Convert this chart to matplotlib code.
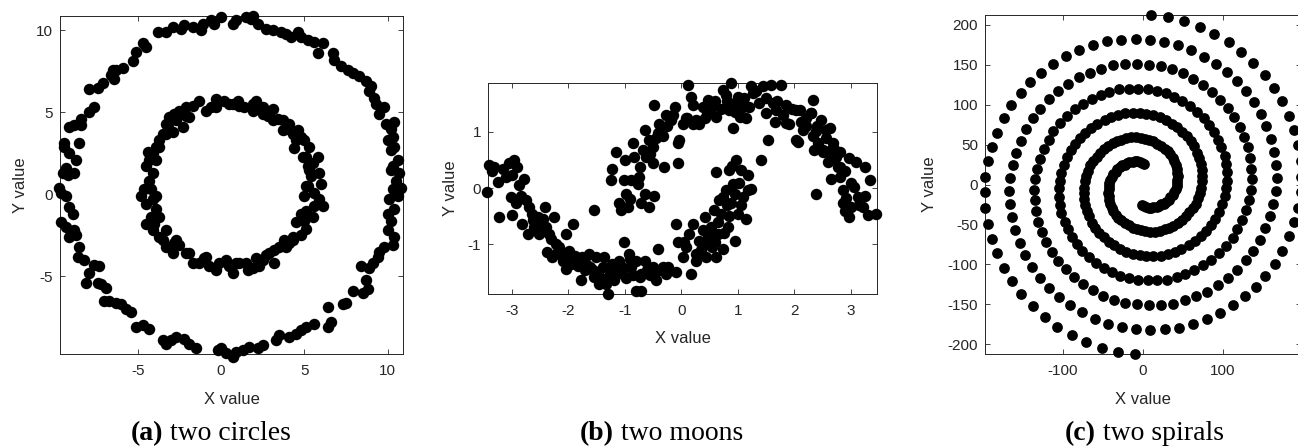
import numpy as np
import matplotlib
matplotlib.use("Agg")
import matplotlib.pyplot as plt

# ---- data ----
circle_outer = [
    (-3.8, 9.9), (-3.3, 9.9), (-2.9, 10.2), (-2.4, 10.1), (-2.2, 10.3), (-1.7, 10.2), (-1.2, 10.0),
    (-1.1, 10.4), (-0.6, 10.6), (0.0, 10.8), (-0.4, 10.4), (0.7, 10.4), (0.9, 10.6), (1.5, 10.8),
    (1.9, 10.9), (1.8, 10.7), (2.2, 10.4), (2.7, 10.1), (3.1, 10.0), (3.6, 9.9), (3.9, 9.8),
    (4.2, 9.6), (4.6, 9.9), (4.8, 9.6), (5.2, 9.4), (5.6, 9.3), (6.1, 9.2), (5.8, 8.6), (6.7, 8.6),
    (6.8, 8.2), (7.2, 7.8), (7.6, 7.6), (7.9, 7.4), (8.3, 7.2), (8.7, 6.9), (9.0, 6.6), (8.9, 6.3),
    (9.2, 5.9), (9.3, 5.5), (9.8, 5.3), (9.5, 4.9), (9.9, 4.3), (10.2, 4.0), (10.4, 4.4), (10.3, 3.5),
    (10.0, 3.3), (10.4, 2.9), (10.2, 2.7), (10.6, 2.1), (10.3, 1.7), (10.7, 1.3), (10.2, 1.5),
    (10.5, 0.8), (10.8, 0.4), (10.3, 0.3), (10.6, -0.1), (10.1, -0.3), (10.4, -0.9), (10.0, -1.2),
    (10.2, -1.6), (10.0, -2.2), (10.4, -2.6), (10.3, -3.1), (9.8, -3.2), (9.5, -3.5), (9.4, -3.8),
    (9.1, -4.2), (8.9, -4.5), (8.4, -4.4), (8.7, -5.2), (8.8, -5.8), (8.5, -6.0), (7.9, -5.9),
    (7.5, -6.6), (7.3, -6.7), (6.4, -6.9), (6.6, -7.8), (6.4, -8.1), (5.6, -7.9), (5.1, -8.1),
    (4.8, -8.3), (4.5, -8.5), (4.1, -8.7), (3.5, -8.6), (3.3, -8.9), (2.5, -9.2), (2.2, -9.4),
    (1.7, -9.3), (1.3, -9.5), (0.9, -9.6), (0.7, -9.9), (0.3, -9.7), (0.0, -9.4), (-0.2, -9.5),
    (-1.5, -9.4), (-1.9, -9.1), (-2.2, -8.8), (-2.7, -8.7), (-3.0, -8.9), (-3.3, -9.1), (-3.5, -8.9),
    (-4.3, -8.2), (-4.7, -8.0), (-5.1, -8.1), (-5.4, -7.2), (-5.7, -7.0), (-6.0, -6.7), (-6.3, -6.6),
    (-6.7, -6.5), (-7.0, -6.5), (-6.9, -5.7), (-7.2, -5.5), (-7.4, -5.4), (-8.1, -5.4), (-7.9, -4.8),
    (-7.6, -4.3), (-7.3, -4.4), (-8.2, -4.0), (-8.6, -3.8), (-8.5, -3.2), (-8.7, -2.5), (-9.1, -2.6),
    (-8.8, -2.2), (-9.3, -2.0), (-9.6, -1.7), (-8.9, -1.2), (-9.1, -0.8), (-9.3, -0.1), (-9.6, 0.1),
    (-9.7, 0.4), (-9.5, 1.3), (-9.2, 1.2), (-8.8, 1.3), (-9.3, 1.6), (-8.7, 2.1), (-9.1, 2.5),
    (-9.4, 2.9), (-9.4, 3.1), (-8.5, 3.1), (-9.1, 4.1), (-8.8, 4.2), (-8.4, 4.2), (-8.4, 4.6),
    (-7.9, 5.0), (-7.6, 5.3), (-7.9, 6.4), (-7.4, 6.5), (-7.1, 6.8), (-6.6, 7.3), (-6.4, 7.0),
    (-6.5, 7.6), (-6.3, 7.6), (-5.9, 7.7), (-5.3, 8.1), (-5.1, 8.7), (-4.7, 9.2), (-4.5, 9.0),
]
circle_inner = [
    (-1.3, 5.7), (-0.6, 5.3), (-0.3, 5.8), (0.2, 5.7), (0.7, 5.5), (1.0, 5.7), (1.4, 5.3), (1.9, 5.5),
    (2.1, 5.7), (2.5, 5.3), (3.1, 5.2), (2.8, 4.8), (3.4, 4.6), (3.7, 4.5), (4.1, 4.3), (3.9, 4.0),
    (4.3, 3.7), (4.6, 3.9), (4.8, 3.5), (5.0, 3.3), (4.4, 2.8), (5.3, 2.9), (5.1, 2.3), (5.5, 1.9),
    (5.8, 2.3), (5.2, 1.7), (5.9, 1.3), (5.4, 1.1), (6.0, 0.6), (5.2, 0.5), (5.6, 0.1), (5.0, -0.1),
    (5.9, -0.3), (5.6, -0.7), (6.1, -0.7), (5.1, -1.0), (5.5, -1.4), (5.0, -1.6), (4.5, -1.7),
    (5.1, -2.1), (4.8, -2.5), (4.3, -2.6), (4.1, -3.0), (3.8, -2.8), (3.5, -3.2), (3.2, -3.4),
    (2.9, -3.6), (3.2, -4.2), (2.5, -4.0), (2.3, -4.4), (1.9, -4.5), (1.5, -4.2), (1.6, -4.6),
    (1.1, -4.2), (0.7, -4.8), (0.5, -4.4), (-0.1, -4.2), (-0.3, -4.6), (-0.7, -4.4), (-1.0, -3.9),
    (-1.3, -4.2), (-1.7, -4.2), (-2.1, -3.6), (-2.5, -3.1), (-2.8, -3.0), (-2.9, -3.6), (-3.3, -3.2),
    (-3.5, -2.8), (-3.7, -2.6), (-4.1, -2.2), (-4.0, -1.8), (-4.5, -1.8), (-4.2, -1.4), (-3.9, -0.9),
    (-4.1, -0.3), (-4.5, -0.6), (-4.8, -0.1), (-4.6, 0.3), (-4.3, 0.8), (-4.1, 1.3), (-4.5, 1.7),
    (-3.9, 2.1), (-4.1, 2.5), (-4.4, 2.6), (-3.9, 2.9), (-3.7, 3.3), (-3.5, 3.7), (-3.2, 4.1),
    (-3.3, 4.3), (-3.1, 4.7), (-2.8, 4.9), (-2.5, 5.1), (-2.1, 5.3), (-1.9, 4.7), (-1.7, 5.4),
    (-2.3, 4.1), (-2.9, 3.8), (-4.3, 2.1), (-4.2, 0.3), (-3.9, -0.1), (-3.7, -1.4), (-3.3, -2.2),
    (-2.7, -2.8), (-1.9, -3.6), (-0.9, -3.8), (0.3, -4.0), (0.9, -4.2), (2.1, -3.9), (2.7, -3.7),
    (3.9, -3.2), (4.3, -2.8), (4.8, -1.2), (5.1, 0.5), (5.3, 1.5), (4.9, 2.3), (4.5, 3.3), (3.7, 3.9),
    (3.1, 4.5), (2.5, 4.9), (1.9, 5.1), (1.1, 5.4), (0.5, 5.5), (-0.3, 5.3), (-0.9, 5.1), (-2.1, 4.8),
    (-2.7, 4.5), (-3.3, 3.7), (-3.7, 2.9),
]

moon_lower = [
    (-3.43, -0.07), (-3.40, 0.41), (-3.31, 0.38), (-3.25, 0.11), (-3.16, 0.35), (-3.22, -0.51),
    (-3.04, 0.44), (-2.96, 0.50), (-2.90, 0.38), (-2.99, 0.23), (-2.87, 0.05), (-2.99, -0.48),
    (-3.01, -0.15), (-2.93, -0.27), (-2.78, 0.17), (-2.84, -0.13), (-2.75, -0.21), (-2.69, -0.33),
    (-2.81, -0.63), (-2.72, -0.81), (-2.63, -0.57), (-2.60, -0.69), (-2.54, -0.51), (-2.51, -0.81),
    (-2.42, -0.33), (-2.40, -0.69), (-2.34, -0.81), (-2.37, -1.14), (-2.28, -1.23), (-2.22, -0.99),
    (-2.25, -0.51), (-2.16, -1.05), (-2.10, -1.29), (-2.04, -1.43), (-2.04, -0.81), (-1.98, -1.11),
    (-1.92, -0.63), (-1.92, -1.29), (-1.83, -1.38), (-1.75, -1.23), (-1.78, -1.64), (-1.69, -1.35),
    (-1.63, -1.17), (-1.57, -1.46), (-1.51, -1.23), (-1.54, -1.58), (-1.45, -1.70), (-1.39, -1.40),
    (-1.36, -1.23), (-1.30, -1.88), (-1.27, -1.52), (-1.22, -1.35), (-1.19, -1.64), (-1.10, -1.29),
    (-1.04, -1.52), (-1.01, -0.96), (-0.92, -1.17), (-0.89, -1.40), (-0.80, -1.29), (-0.74, -1.58),
    (-0.71, -1.52), (-0.71, -1.82), (-0.65, -1.29), (-0.80, -1.82), (-0.51, -1.40), (-0.45, -1.64),
    (-0.42, -1.08), (-0.39, -1.46), (-0.27, -1.52), (-0.24, -1.40), (-0.09, -1.49), (-0.09, -0.63),
    (-0.06, -0.96), (0.02, -1.23), (0.08, -1.05), (0.14, -0.81), (0.17, -1.52), (0.20, -0.63),
    (0.26, -1.17), (0.32, -0.93), (0.38, -0.75), (0.44, -1.23), (0.41, -0.51), (0.47, -0.87),
    (0.53, -0.69), (0.55, -1.05), (0.61, -1.23), (0.58, -0.39), (0.64, -0.81), (0.70, -0.45),
    (0.73, -1.08), (0.73, -0.15), (0.79, -0.04), (0.82, -0.69), (0.88, -0.27), (0.91, 0.08),
    (0.94, -0.93), (1.00, -0.45), (0.85, 0.32), (0.97, 0.50), (1.06, 0.32), (1.09, -0.15),
    (1.17, -0.04), (1.14, -0.54), (1.17, 0.23), (1.23, -0.01), (0.61, 0.29), (0.67, -0.21),
    (-1.54, -0.39), (-2.50, -0.60), (-2.45, -0.75), (-2.30, -0.90), (-2.20, -1.15), (-2.12, -1.20),
    (-2.00, -1.25), (-1.95, -1.35), (-1.88, -1.20), (-1.70, -1.45), (-1.62, -1.40), (-1.48, -1.50),
    (-1.42, -1.60), (-1.33, -1.70), (-1.25, -1.40), (-1.15, -1.50), (-1.05, -1.40), (-0.98, -1.60),
    (-0.90, -1.25), (-0.85, -1.55), (-0.60, -1.45), (-0.55, -1.55), (-0.32, -1.40), (0.05, -0.95),
    (0.25, -1.30), (0.35, -1.10), (0.45, -1.00), (0.50, -0.80), (0.60, -0.95), (0.65, -0.60),
    (0.75, -0.80), (0.80, -0.30), (0.85, -0.50), (0.95, -0.10), (1.02, 0.10), (0.90, 0.40),
    (1.05, -0.30), (-3.35, 0.30), (-3.10, 0.20), (-2.65, -0.45), (-2.45, -0.55),
]
moon_upper = [
    (-1.24, 0.14), (-1.22, 0.35), (-1.16, 0.65), (-1.10, -0.27), (-1.07, -0.39), (-1.01, 0.14),
    (-0.98, -0.10), (-0.95, -0.33), (-0.86, 0.80), (-0.89, 0.14), (-0.83, 0.56), (-0.77, 0.08),
    (-0.74, 0.38), (-0.71, -0.27), (-0.68, 0.68), (-0.65, 1.04), (-0.63, 0.56), (-0.57, 0.86),
    (-0.57, -0.33), (-0.51, 0.44), (-0.48, -0.13), (-0.51, 0.74), (-0.42, 0.98), (-0.39, 1.15),
    (-0.48, 1.48), (-0.33, 0.92), (-0.27, 1.30), (-0.30, 0.38), (-0.18, 1.21), (-0.12, 1.45),
    (-0.06, 0.80), (-0.06, 0.44), (-0.04, 0.86), (0.02, 1.15), (0.08, 1.24), (0.11, 1.84),
    (0.17, 1.63), (0.20, 1.48), (0.26, 1.21), (0.32, 1.15), (0.38, 1.45), (0.41, 1.24),
    (0.47, 1.57), (0.50, 1.39), (0.55, 1.48), (0.61, 1.27), (0.73, 1.75), (0.79, 1.66),
    (0.85, 1.39), (0.88, 1.87), (0.91, 1.07), (0.94, 1.51), (1.00, 1.63), (1.03, 1.27),
    (1.09, 1.45), (1.14, 1.24), (1.23, 1.81), (1.26, 1.69), (1.32, 1.72), (1.38, 1.51),
    (1.41, 0.50), (1.44, 1.81), (1.50, 1.33), (1.53, 0.86), (1.59, 1.84), (1.62, 1.51),
    (1.65, 1.18), (1.68, 1.39), (1.76, 1.84), (1.79, 1.30), (1.85, 1.48), (1.91, 1.15),
    (2.03, 1.39), (2.06, 0.83), (2.12, 1.18), (2.21, 1.10), (2.32, 1.57), (2.29, 1.33),
    (2.38, -0.10), (2.38, 1.01), (2.41, 0.80), (2.47, 1.21), (2.50, 0.68), (2.56, 1.04),
    (2.62, 0.50), (2.65, 0.17), (2.68, 0.80), (2.74, 0.56), (2.77, 0.38), (2.30, 1.33),
    (2.09, 1.39), (2.03, 0.86), (1.85, 1.16), (2.15, 1.04), (2.32, 0.92), (2.62, 1.07),
    (2.35, 0.68), (2.50, 0.65), (2.59, 0.47), (2.65, 0.68), (2.80, 0.65), (2.80, 0.38),
    (2.80, 0.20), (2.97, 0.53), (3.09, 0.47), (3.24, 0.38), (3.33, 0.14), (2.85, -0.04),
    (2.92, -0.18), (2.85, -0.27), (3.00, -0.33), (2.97, -0.51), (3.12, -0.16), (3.24, -0.13),
    (3.21, -0.33), (3.30, -0.48), (3.45, -0.46), (3.06, 0.02), (-0.45, 0.90), (-0.35, 1.05),
    (-0.25, 1.10), (-0.15, 1.30), (0.10, 1.25), (0.20, 1.15), (0.45, 1.35), (0.60, 1.55),
    (0.70, 1.40), (0.80, 1.55), (0.95, 1.35), (1.10, 1.60), (1.20, 1.45), (1.50, 1.60),
    (1.70, 1.55), (1.95, 1.40), (2.20, 1.25), (2.40, 1.10), (2.55, 0.90), (2.70, 0.70),
    (2.90, 0.30), (3.00, 0.10), (3.15, -0.30), (2.90, -0.40), (-0.55, 0.60), (-0.75, 0.20),
    (-0.90, -0.20), (-0.65, -0.10), (-1.00, 0.50),
]

spiral_a_x = [1, -1, -4, -7, -10, -13, -17, -20, -23, -26, -29, -32, -34, -37, -39, -41, -42, -43, -43, -44,
              -43, -42, -41, -39, -37, -34, -31, -27, -23, -18, -13, -8, -3, 3, 9, 15, 21, 27, 33, 38,
              44, 49, 54, 58, 62, 66, 69, 71, 73, 74, 74, 74, 72, 70, 68, 64, 60, 55, 49, 43, 36, 29, 21, 13,
              4, -4, -13, -22, -31, -40, -48, -57, -65, -72, -79, -85, -90, -95, -99, -102, -104, -105, -105, -104,
              -102, -98, -94, -89, -83, -76, -68, -59, -49, -39, -29, -17, -6, 6, 18, 30, 42, 53, 64, 75,
              85, 95, 104, 112, 118, 124, 129, 133, 135, 136, 135, 134, 131, 126, 121, 114, 106, 96, 86, 75, 63, 50, 36, 22,
              7, -7, -22, -37, -52, -66, -80, -94, -106, -118, -129, -138, -146, -153, -159, -163, -166, -167, -166, -164,
              -160, -154, -147, -139, -129, -117, -105, -91, -76, -60, -44, -26, -9, 9, 27, 45, 62, 80, 96, 112,
              127, 141, 153, 165, 174, 183, 189, 194, 197, 198, 197, 194, 189, 182, 174, 164, 152, 138, 123, 107,
              89, 71, 51, 31, 10]
spiral_a_y = [26, 27, 28, 29, 29, 28, 28, 27, 25, 24, 22, 19, 16, 13, 10, 6, 2, -2, -6, -11,
              -15, -20, -25, -29, -33, -38, -42, -45, -48, -51, -54, -56, -57, -58, -59, -59, -58, -56, -54, -52,
              -48, -44, -40, -35, -30, -24, -17, -11, -4, 4, 11, 18, 26, 33, 40, 48, 54, 61, 66, 72, 76, 81, 84, 87,
              88, 89, 89, 89, 87, 84, 81, 76, 71, 65, 58, 51, 43, 34, 25, 15, 5, -5, -16, -26,
              -36, -47, -56, -66, -75, -83, -91, -98, -104, -110, -114, -117, -119, -120, -120, -119, -116, -112, -107, -101,
              -94, -86, -77, -67, -56, -44, -32, -20, -7, 7, 20, 33, 47, 60, 72, 84, 96, 106, 116, 125, 132, 139, 144, 148,
              150, 151, 151, 149, 145, 140, 134, 126, 117, 107, 95, 83, 69, 55, 40, 24, 8, -8, -25, -41,
              -57, -73, -88, -103, -117, -129, -141, -151, -160, -168, -174, -178, -181, -182, -181, -179, -174, -168, -161, -151,
              -140, -128, -114, -99, -83, -65, -47, -29, -10, 10, 29, 49, 68, 86, 104, 121, 137, 152, 166, 178,
              188, 197, 204, 209, 212]
spiral_b_x = [-1, 1, 4, 7, 10, 13, 17, 20, 23, 26, 29, 32, 34, 37, 39, 41, 42, 43, 43, 44,
              43, 42, 41, 39, 37, 34, 31, 27, 23, 18, 13, 8, 3, -3, -9, -15, -21, -27, -33, -38,
              -44, -49, -54, -58, -62, -66, -69, -71, -73, -74, -74, -74, -72, -70, -68, -64, -60, -55, -49, -43, -36, -29, -21, -13,
              -4, 4, 13, 22, 31, 40, 48, 57, 65, 72, 79, 85, 90, 95, 99, 102, 104, 105, 105, 104,
              102, 98, 94, 89, 83, 76, 68, 59, 49, 39, 29, 17, 6, -6, -18, -30, -42, -53, -64, -75,
              -85, -95, -104, -112, -118, -124, -129, -133, -135, -136, -135, -134, -131, -126, -121, -114, -106, -96, -86, -75, -63, -50, -36, -22,
              -7, 7, 22, 37, 52, 66, 80, 94, 106, 118, 129, 138, 146, 153, 159, 163, 166, 167, 166, 164,
              160, 154, 147, 139, 129, 117, 105, 91, 76, 60, 44, 26, 9, -9, -27, -45, -62, -80, -96, -112,
              -127, -141, -153, -165, -174, -183, -189, -194, -197, -198, -197, -194, -189, -182, -174, -164, -152, -138, -123, -107,
              -89, -71, -51, -31, -10]
spiral_b_y = [-26, -27, -28, -29, -29, -28, -28, -27, -25, -24, -22, -19, -16, -13, -10, -6, -2, 2, 6, 11,
              15, 20, 25, 29, 33, 38, 42, 45, 48, 51, 54, 56, 57, 58, 59, 59, 58, 56, 54, 52,
              48, 44, 40, 35, 30, 24, 17, 11, 4, -4, -11, -18, -26, -33, -40, -48, -54, -61, -66, -72, -76, -81, -84, -87,
              -88, -89, -89, -89, -87, -84, -81, -76, -71, -65, -58, -51, -43, -34, -25, -15, -5, 5, 16, 26,
              36, 47, 56, 66, 75, 83, 91, 98, 104, 110, 114, 117, 119, 120, 120, 119, 116, 112, 107, 101,
              94, 86, 77, 67, 56, 44, 32, 20, 7, -7, -20, -33, -47, -60, -72, -84, -96, -106, -116, -125, -132, -139, -144, -148,
              -150, -151, -151, -149, -145, -140, -134, -126, -117, -107, -95, -83, -69, -55, -40, -24, -8, 8, 25, 41,
              57, 73, 88, 103, 117, 129, 141, 151, 160, 168, 174, 178, 181, 182, 181, 179, 174, 168, 161, 151,
              140, 128, 114, 99, 83, 65, 47, 29, 10, -10, -29, -49, -68, -86, -104, -121, -137, -152, -166, -178,
              -188, -197, -204, -209, -212]

captions = [("(a)", " two circles"), ("(b)", " two moons"), ("(c)", " two spirals")]

W, H = 1298, 446
plt.rcParams['font.family'] = ['Liberation Sans', 'DejaVu Sans']
plt.rcParams['axes.unicode_minus'] = False
fig = plt.figure(figsize=(W / 100, H / 100), dpi=100)

INK = '#262626'


def px_axes(left, top, right, bottom):
    return fig.add_axes([left / W, 1 - bottom / H, (right - left) / W, (bottom - top) / H])


def style(ax, xlim, ylim, xticks, yticks, ylab_x, xlab_y):
    ax.set_xlim(*xlim)
    ax.set_ylim(*ylim)
    ax.set_xticks(xticks)
    ax.set_yticks(yticks)
    ax.tick_params(direction='in', top=True, right=True, length=3.5, width=0.6,
                   colors=INK, labelsize=11)
    ax.tick_params(axis='x', pad=7)
    ax.tick_params(axis='y', pad=5)
    for s in ax.spines.values():
        s.set_linewidth(0.7)
        s.set_color(INK)
    ax.set_xlabel('X value', fontsize=12, color=INK)
    ax.set_ylabel('Y value', fontsize=12, color=INK)
    ax.yaxis.set_label_coords(ylab_x, 0.5)
    ax.xaxis.set_label_coords(0.5, xlab_y)


def dots(ax, x, y, size=68):
    ax.scatter(x, y, s=size, c='black', marker='o', linewidths=0, clip_on=False, zorder=3)


# (a) two circles
ax1 = px_axes(60, 16, 403, 354)
for pts in (circle_outer, circle_inner):
    arr = np.array(pts)
    dots(ax1, arr[:, 0], arr[:, 1])
style(ax1, (-9.66, 10.92), (-9.74, 10.87), [-5, 0, 5, 10], [-5, 0, 5, 10], -0.092, -0.112)

# (b) two moons
ax2 = px_axes(488, 83, 877, 294)
for pts in (moon_lower, moon_upper):
    arr = np.array(pts)
    dots(ax2, arr[:, 0], arr[:, 1])
style(ax2, (-3.42, 3.46), (-1.88, 1.87), [-3, -2, -1, 0, 1, 2, 3], [-1, 0, 1], -0.076, -0.175)

# (c) two spirals
ax3 = px_axes(985, 15, 1301, 354)
dots(ax3, spiral_a_x, spiral_a_y, size=60)
dots(ax3, spiral_b_x, spiral_b_y, size=60)
style(ax3, (-197.6, 197.6), (-212.1, 212.1), [-100, 0, 100], np.arange(-200, 201, 50), -0.1525, -0.112)

# sub-captions (bold tag + plain text, Times-like)
splits = [163, 614, 1096]
for (tag, text), xs in zip(captions, splits):
    fig.text(xs / W, 1 - 440 / H, tag, ha='right', va='baseline', fontsize=20,
             family='Liberation Serif', fontweight='bold')
    fig.text(xs / W, 1 - 440 / H, text, ha='left', va='baseline', fontsize=20,
             family='Liberation Serif')

fig.savefig('out.png', dpi=100)
